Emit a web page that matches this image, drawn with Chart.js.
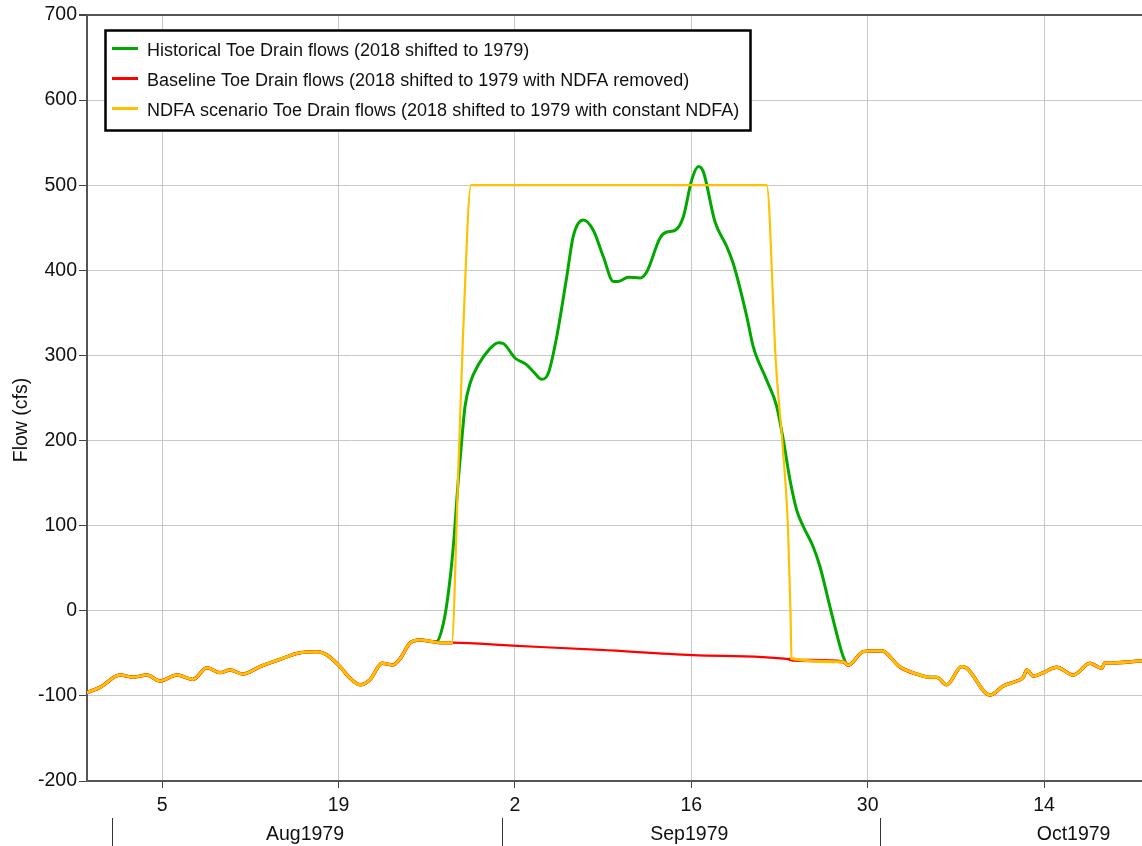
<!DOCTYPE html>
<html>
<head>
<meta charset="utf-8">
<script src="https://cdn.jsdelivr.net/npm/chart.js@4.4.1/dist/chart.umd.min.js"></script>
<style>
html,body{margin:0;padding:0;background:#fff;overflow:hidden}
#wrap{position:relative;width:1142px;height:846px}
</style>
</head>
<body>
<div id="wrap"><canvas id="c" width="1142" height="846"></canvas></div>
<script>
// ---- Data (x = days since 1 Aug 1979) ----
const seriesNames = [
  'Historical Toe Drain flows (2018 shifted to 1979)',
  'Baseline Toe Drain flows (2018 shifted to 1979 with NDFA removed)',
  'NDFA scenario Toe Drain flows (2018 shifted to 1979 with constant NDFA)'
];
const xTickDays = [4, 18, 32, 46, 60, 74];
const xTickLabels = ['5', '19', '2', '16', '30', '14'];
const monthStartDays = [0, 31, 61];
const monthEndDays = [31, 61, 92];
const monthLabels = ['Aug1979', 'Sep1979', 'Oct1979'];
const yTitle = 'Flow (cfs)';

// shared flows before the event
const preDays = [-1.96,-0.93,0.66,1.69,2.8,3.83,5.18,6.45,7.56,8.6,9.39,10.42,11.77,13.36,14.94,16.29,17.09,18.12,18.9,19.71,20.5,21.45,22.33,22.9,23.67,24.47,25.5];
const preFlow = [-96,-90,-75.5,-78,-75.5,-82.5,-75.5,-80.6,-67,-72.7,-69.6,-74.3,-65.6,-57,-49.3,-48,-52,-65.6,-79,-87,-81,-61.7,-63.6,-56,-38,-34.4,-36.3];

// historical during event
const histEvDays = [25.79,26.32,26.71,27.11,27.51,27.78,28.04,28.44,29.10,30.02,30.68,31.08,32.01,32.94,33.46,34.13,34.65,35.32,36.11,36.63,37.43,38.22,39.02,39.81,40.21,41.0,41.93,42.46,43.52,44.05,44.71,45.37,46.03,46.56,46.95,47.88,48.81,49.33,50.40,50.92,51.98,52.78,53.30,53.83,54.37,54.89,55.68,56.21,57.0,57.54,58.06];
const histEvFlow = [-36,-15,20,75,154,200,240,267,289,308,315,314,297,289,281,272,279,322,392,440,459,447,416,387,387,392,391,398,438,445,447,463,506,522,516,457,428,408,346,310,271,240,201,154,118,99,75,52,5,-27,-54];

// baseline during event (NDFA removed)
const baseEvDays = [26.06,27.0,31.8,38.8,46.1,53.83,54.1,58.06];
const baseEvFlow = [-37.5,-37.5,-41,-46,-52,-57,-58,-60];

// NDFA scenario during event
const ndfaEvDays = [26.06,26.98,27.51,27.9,28.52,51.98,52.72,53.27,53.67,53.87,53.95,58.06];
const ndfaEvFlow = [-37.5,-37.5,165,330,500,500,290,190,99,0,-56,-60];

// shared flows after the event
const postDays = [58.45,59.65,61.1,62.56,63.89,64.94,65.48,66.27,67.46,67.86,69.71,70.76,71.83,72.35,72.62,73.14,73.94,75.0,76.32,77.64,78.57,78.83,79.76,81.77];
const postFlow = [-64,-48,-47,-66,-74.3,-78.2,-78.2,-87,-65.6,-67.5,-99,-88.4,-82.5,-78.2,-69.6,-76.7,-72.7,-66.4,-75.5,-61.7,-67.6,-61,-61,-58.7];

const histDays = preDays.concat(histEvDays, postDays);
const histFlow = preFlow.concat(histEvFlow, postFlow);
const baseDays = preDays.concat(baseEvDays, postDays);
const baseFlow = preFlow.concat(baseEvFlow, postFlow);
const ndfaDays = preDays.concat(ndfaEvDays, postDays);
const ndfaFlow = preFlow.concat(ndfaEvFlow, postFlow);

const FONT = "'Liberation Sans', Arial, sans-serif";
const TXT = '#111';
function pts(d, v) { return d.map((x, i) => ({ x: x, y: v[i] })); }
const evLo = ndfaEvDays[1], evHi = ndfaEvDays[ndfaEvDays.length - 2];
function inEvent(c) { return c.p0.parsed.x >= evLo - 0.01 && c.p1.parsed.x <= evHi + 0.01; }

const decor = {
  id: 'decor',
  afterDraw(chart) {
    const ctx = chart.ctx, xs = chart.scales.x, area = chart.chartArea;
    ctx.save();
    // month dividers and labels
    ctx.strokeStyle = '#333'; ctx.lineWidth = 1;
    monthStartDays.forEach(d => {
      const px = Math.round(xs.getPixelForValue(d)) + 0.5;
      if (px < area.left || px > area.right) return;
      ctx.beginPath(); ctx.moveTo(px, 818); ctx.lineTo(px, 846); ctx.stroke();
    });
    ctx.fillStyle = TXT; ctx.font = '19.5px ' + FONT;
    ctx.textAlign = 'center'; ctx.textBaseline = 'alphabetic';
    monthLabels.forEach((m, i) => {
      const px = xs.getPixelForValue((monthStartDays[i] + monthEndDays[i]) / 2);
      ctx.fillText(m, px - 2, 840);
    });
    // y title
    ctx.save();
    ctx.translate(26.5, 420); ctx.rotate(-Math.PI / 2);
    ctx.textAlign = 'center'; ctx.textBaseline = 'alphabetic';
    ctx.fillText(yTitle, 0, 0);
    ctx.restore();
    // legend
    ctx.fillStyle = '#fff'; ctx.fillRect(105, 30, 646, 101);
    ctx.strokeStyle = '#000'; ctx.lineWidth = 2.5; ctx.strokeRect(105.5, 30.5, 645, 100);
    chart.data.datasets.forEach((ds, i) => {
      const y = 48.5 + i * 30;
      ctx.strokeStyle = ds.borderColor; ctx.lineWidth = 3;
      ctx.beginPath(); ctx.moveTo(112, y); ctx.lineTo(138, y); ctx.stroke();
      ctx.fillStyle = TXT; ctx.font = '18px ' + FONT;
      ctx.textAlign = 'left'; ctx.textBaseline = 'alphabetic';
      ctx.fillText(ds.label, 147, 56 + i * 30);
    });
    ctx.restore();
  }
};

new Chart(document.getElementById('c'), {
  type: 'line',
  data: {
    datasets: [
      { label: seriesNames[0], data: pts(histDays, histFlow), borderColor: '#00A800', borderWidth: 3, order: 2 },
      { label: seriesNames[1], data: pts(baseDays, baseFlow), borderColor: '#FF0000', borderWidth: 3, order: 1,
        segment: { borderWidth: c => inEvent(c) ? 2.2 : 3.4 } },
      { label: seriesNames[2], data: pts(ndfaDays, ndfaFlow), borderColor: '#FFC000', borderWidth: 2.5, order: 0,
        segment: { borderWidth: c => inEvent(c) ? 2.2 : 3.0 } }
    ]
  },
  options: {
    responsive: false,
    animation: false,
    devicePixelRatio: 1,
    elements: {
      point: { radius: 0 },
      line: { cubicInterpolationMode: 'monotone', borderCapStyle: 'round', borderJoinStyle: 'round' }
    },
    layout: { padding: { top: 15, right: 0, bottom: 0, left: 0 } },
    plugins: { legend: { display: false }, tooltip: { enabled: false } },
    scales: {
      x: {
        type: 'linear', min: -1.96, max: 81.77,
        afterBuildTicks: s => { s.ticks = xTickDays.map(v => ({ value: v })); },
        afterFit: s => { s.height = 65; },
        ticks: { callback: (v, i) => xTickLabels[i], font: { family: FONT, size: 19.5 }, color: TXT, padding: 6, maxRotation: 0, autoSkip: false },
        grid: { color: '#c8c8c8', lineWidth: 1, tickColor: '#444', tickLength: 7 },
        border: { color: '#555', width: 2 }
      },
      y: {
        min: -200, max: 700,
        afterFit: s => { s.width = 87; },
        ticks: { stepSize: 100, font: { family: FONT, size: 19.5 }, color: TXT, padding: 2 },
        grid: {
          color: c => (c.tick && c.tick.value === 700) ? '#555' : '#c8c8c8',
          lineWidth: c => (c.tick && c.tick.value === 700) ? 2 : 1,
          tickColor: '#444', tickLength: 8
        },
        border: { color: '#555', width: 2 }
      }
    }
  },
  plugins: [decor]
});
</script>
</body>
</html>
